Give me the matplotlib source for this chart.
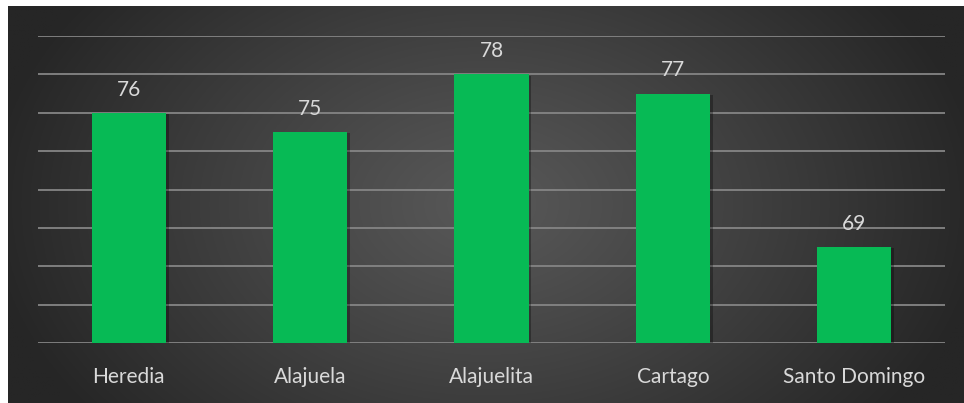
import numpy as np
import matplotlib.pyplot as plt
import matplotlib.patheffects as pe

cantones = ["Heredia", "Alajuela", "Alajuelita", "Cartago", "Santo Domingo"]
valores = [76, 75, 78, 77, 69]

plt.rcParams['font.family'] = ['Lato', 'DejaVu Sans']

fig = plt.figure(figsize=(9.64, 4.03), dpi=100)
fig.patch.set_facecolor('white')

# fondo oscuro con degradado radial
bg = fig.add_axes([8 / 964, 0, 956 / 964, 397 / 403])
bg.set_axis_off()
yy, xx = np.mgrid[-1:1:300j, -1:1:700j]
r = np.sqrt((xx * 1.0) ** 2 + (yy * 0.6) ** 2)
r = np.clip(r / 1.05, 0, 1)
c0, c1 = 0x58 / 255, 0x26 / 255
grad = c0 + (c1 - c0) * r ** 1.1
bg.imshow(np.dstack([grad, grad, grad]), aspect='auto', extent=[0, 1, 0, 1])

ax = fig.add_axes([38 / 964, 60 / 403, 907 / 964, 307 / 403])
ax.patch.set_alpha(0)
x = np.arange(len(cantones))
base = 64
bars = ax.bar(x, [v - base for v in valores], width=0.41, bottom=base,
              color='#07ba55', zorder=3)
for b in bars:
    b.set_path_effects([pe.SimplePatchShadow(offset=(2, -1), shadow_rgbFace='black', alpha=0.3),
                        pe.Normal()])

ax.set_xlim(-0.5, len(cantones) - 0.5)
ax.set_ylim(base, 80)
ax.set_yticks(np.arange(base, 81, 2))
ax.yaxis.grid(True, color='#858585', linewidth=1.3, zorder=1)
ax.tick_params(left=False, bottom=False, labelleft=False)
ax.set_xticks(x)
ax.set_xticklabels(cantones, color='#d9d9d9', fontsize=15)
ax.tick_params(axis='x', pad=14)
for s in ax.spines.values():
    s.set_visible(False)

for xi, v in zip(x, valores):
    ax.annotate(str(v), (xi, v), xytext=(0, 9.5), textcoords='offset points',
                ha='center', va='bottom', color='#d9d9d9', fontsize=15, zorder=4)

fig.savefig('out.png', dpi=100, facecolor=fig.get_facecolor())
